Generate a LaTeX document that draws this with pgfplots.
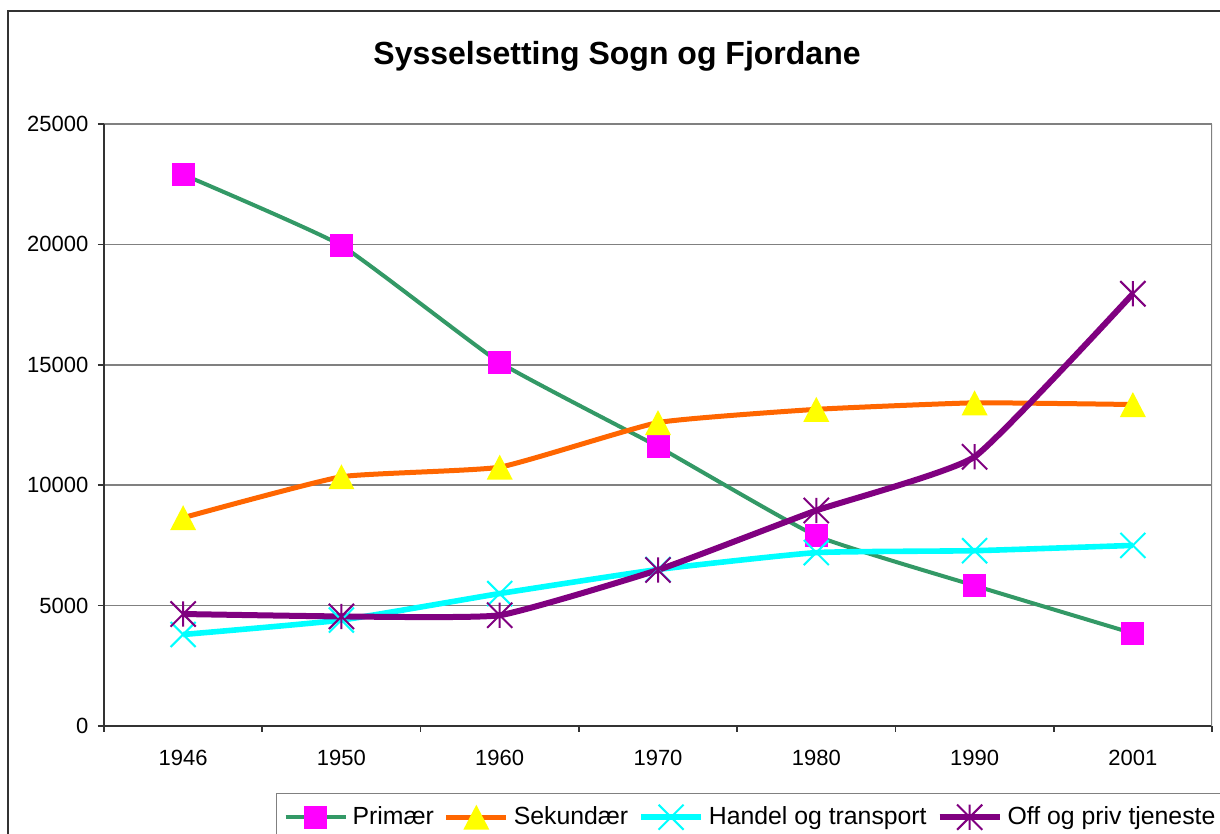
\documentclass[border=0pt]{standalone}
\usepackage{pgfplots}
\pgfplotsset{compat=1.18}
\usepackage{fontspec}
\setmainfont{Liberation Sans}
\definecolor{cPrim}{HTML}{339966}
\definecolor{cSek}{HTML}{FF6600}
\definecolor{cHan}{HTML}{00FFFF}
\definecolor{cOff}{HTML}{800080}
\definecolor{cMag}{HTML}{FF00FF}
\definecolor{cYel}{HTML}{FFFF00}
\pgfdeclareplotmark{xcr}{%
  \pgfpathmoveto{\pgfqpoint{-\pgfplotmarksize}{-\pgfplotmarksize}}%
  \pgfpathlineto{\pgfqpoint{\pgfplotmarksize}{\pgfplotmarksize}}%
  \pgfpathmoveto{\pgfqpoint{-\pgfplotmarksize}{\pgfplotmarksize}}%
  \pgfpathlineto{\pgfqpoint{\pgfplotmarksize}{-\pgfplotmarksize}}%
  \pgfusepathqstroke}
\pgfdeclareplotmark{xstar}{%
  \pgfpathmoveto{\pgfqpoint{-\pgfplotmarksize}{-\pgfplotmarksize}}%
  \pgfpathlineto{\pgfqpoint{\pgfplotmarksize}{\pgfplotmarksize}}%
  \pgfpathmoveto{\pgfqpoint{-\pgfplotmarksize}{\pgfplotmarksize}}%
  \pgfpathlineto{\pgfqpoint{\pgfplotmarksize}{-\pgfplotmarksize}}%
  \pgfpathmoveto{\pgfqpoint{0pt}{-\pgfplotmarksize}}%
  \pgfpathlineto{\pgfqpoint{0pt}{\pgfplotmarksize}}%
  \pgfusepathqstroke}
\pgfdeclareplotmark{tric}{%
  \pgfpathmoveto{\pgfqpoint{0pt}{.96\pgfplotmarksize}}%
  \pgfpathlineto{\pgfqpoint{\pgfplotmarksize}{-.96\pgfplotmarksize}}%
  \pgfpathlineto{\pgfqpoint{-\pgfplotmarksize}{-.96\pgfplotmarksize}}%
  \pgfpathclose
  \pgfusepathqfill}
\pgfdeclareplotmark{sqf}{%
  \pgfpathrectangle{\pgfqpoint{-\pgfplotmarksize}{-\pgfplotmarksize}}{\pgfqpoint{2\pgfplotmarksize}{2\pgfplotmarksize}}%
  \pgfusepathqfill}
\begin{document}
\begin{tikzpicture}
\useasboundingbox (0,0) rectangle (610pt,417pt);
\fill[white] (0,0) rectangle (610pt,417pt);
\draw[black!80, line width=1pt] (4pt,-20pt) rectangle (630pt,411.5pt);
\node[anchor=base, font=\fontsize{16}{19}\selectfont\bfseries] at (308.5pt,384.5pt) {Sysselsetting Sogn og Fjordane};
\begin{axis}[
  at={(52pt,54pt)}, anchor=south west,
  scale only axis, width=554pt, height=301pt,
  xmin=-0.5, xmax=6.5, ymin=0, ymax=25000,
  axis x line*=bottom, axis y line*=left,
  axis line style={black!80, line width=1pt},
  xtick={0,1,2,3,4,5,6},
  xticklabels={1946,1950,1960,1970,1980,1990,2001},
  minor xtick={-0.5,0.5,1.5,2.5,3.5,4.5,5.5,6.5},
  ytick={0,5000,10000,15000,20000,25000},
  tick align=outside, major tick length=3pt, minor tick length=3pt,
  major x tick style={draw=none},
  minor x tick style={black!80, line width=0.8pt},
  ytick style={black!80, line width=0.8pt},
  ymajorgrids, major grid style={gray, line width=0.8pt},
  scaled y ticks=false,
  yticklabel style={/pgf/number format/1000 sep={}, xshift=-1.3pt},
  xticklabel style={yshift=-5.3pt},
  /pgf/number format/assume math mode=true,
  tick label style={font=\fontsize{11}{13}\selectfont},
  legend columns=4,
  legend style={at={(0.1552,-0.1113)}, anchor=north west,
    draw=gray, line width=0.6pt, fill=white,
    inner xsep=3.5pt, inner ysep=5.5pt,
    font=\fontsize{12.4}{14}\selectfont,
    nodes={inner sep=0pt, anchor=west},
    /tikz/every odd column/.append style={column sep=2.5pt},
    /tikz/every even column/.append style={column sep=5pt}},
  legend image code/.code={\draw[mark repeat=2,mark phase=2,#1] plot coordinates {(0pt,0pt) (15pt,0pt) (30pt,0pt)};},
]
\draw[gray, line width=0.8pt] (rel axis cs:1,0) -- (rel axis cs:1,1);
\addplot[cPrim, line width=2pt, smooth, tension=0.25, mark=sqf, mark size=5.75pt, mark options={fill=cMag, solid}]
  coordinates {(0,22900)(1,19950)(2,15100)(3,11600)(4,7900)(5,5830)(6,3850)};
\addlegendentry{Primær}
\addplot[cSek, line width=2.5pt, smooth, tension=0.25, mark=tric, mark size=6.5pt, mark options={fill=cYel, solid}]
  coordinates {(0,8650)(1,10350)(2,10750)(3,12600)(4,13150)(5,13420)(6,13350)};
\addlegendentry{Sekundær}
\addplot[cHan, line width=2.8pt, smooth, tension=0.25, mark=xcr, mark size=6.25pt, mark options={draw=cHan, line width=1pt, solid}]
  coordinates {(0,3800)(1,4400)(2,5500)(3,6500)(4,7200)(5,7280)(6,7500)};
\addlegendentry{Handel og transport}
\addplot[cOff, line width=3pt, smooth, tension=0.25, mark=xstar, mark size=6.3pt, mark options={draw=cOff, line width=1pt, solid}]
  coordinates {(0,4650)(1,4550)(2,4600)(3,6480)(4,8950)(5,11180)(6,17950)};
\addlegendentry{Off og priv tjeneste}
\end{axis}
\end{tikzpicture}
\end{document}
